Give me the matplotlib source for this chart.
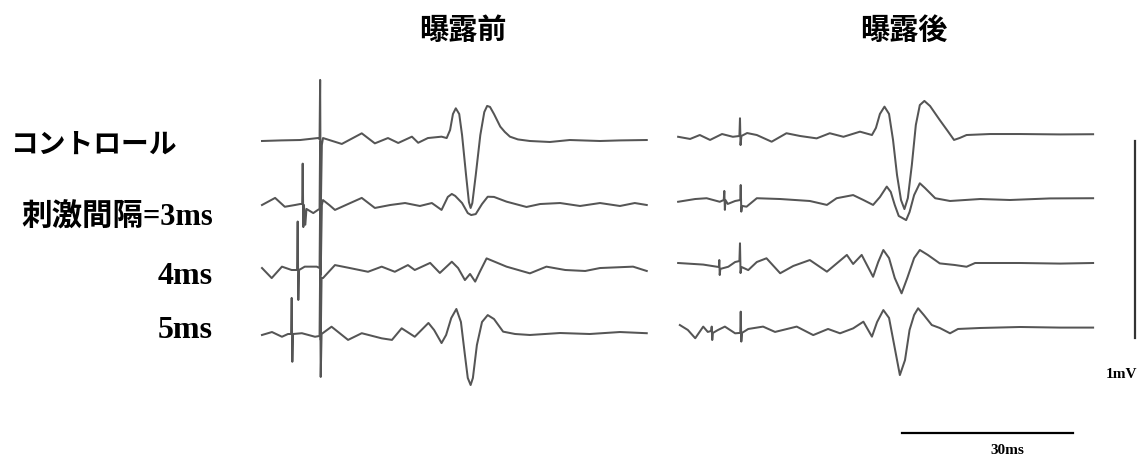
import matplotlib
matplotlib.use("Agg")
import matplotlib.pyplot as plt

# --- traces: time (ms from start of sweep), amplitude (mV from baseline) ---
# before exposure (曝露前)
pre_ctrl_t = [0, 3.3, 6.7, 9.8, 10.1, 10.2, 10.3, 10.5, 10.7, 14.0, 17.5, 19.8, 22.1, 23.9, 26.3, 27.4,
              29.1, 31.5, 32.4, 33.0, 33.5, 34.0, 34.6, 35.1, 35.8, 36.3, 36.6, 36.9, 37.5, 38.3, 39.0,
              39.5, 40.0, 40.7, 41.8, 42.6, 43.5, 44.9, 47.0, 50.5, 54.0, 59.3, 62.8, 67.5]
pre_ctrl_v = [0, 0.003, 0.005, 0.015, 0.01, 0.31, -0.376, -0.02, 0.015, -0.015, 0.039, -0.012, 0.015,
              -0.01, 0.022, -0.009, 0.015, 0.022, 0.015, 0.056, 0.137, 0.166, 0.137, 0.030, -0.173,
              -0.310, -0.340, -0.315, -0.173, 0.030, 0.147, 0.178, 0.173, 0.137, 0.073, 0.046, 0.022,
              0.008, 0, -0.005, 0.005, 0, 0.003, 0.005]

pre_3ms_t = [0, 2.3, 4.0, 5.8, 6.7, 7.05, 7.14, 7.25, 7.35, 7.6, 7.8, 9.0, 9.8, 10.1, 10.2, 10.3, 10.5,
             10.7, 11.8, 12.8, 15.1, 17.5, 19.8, 22.5, 25.1, 27.7, 29.8, 31.5, 32.6, 33.3, 33.9, 35.1,
             36.1, 36.7, 37.5, 38.6, 39.6, 40.7, 42.9, 46.4, 48.8, 52.3, 55.8, 59.3, 62.8, 65.4, 67.5]
pre_3ms_v = [0, 0.036, -0.009, 0, 0.005, 0.005, 0.21, -0.112, 0.0, -0.10, -0.02, -0.041, -0.025, -0.02,
             0.325, -0.355, 0.0, 0.025, 0, -0.025, 0.005, 0.036, -0.015, 0, 0.010, -0.005, 0.010, -0.025,
             0.041, 0.056, 0.046, 0.010, -0.041, -0.051, -0.046, 0.005, 0.042, 0.041, 0.017, -0.010,
             0.005, 0.010, -0.005, 0.010, -0.005, 0.010, 0]

pre_4ms_t = [0, 1.7, 3.5, 5.2, 6.15, 6.26, 6.37, 6.5, 7.5, 9.6, 10.1, 10.2, 10.3, 10.45, 10.7, 12.8,
             15.4, 18.6, 21.0, 23.3, 25.6, 26.8, 29.5, 31.2, 33.3, 34.4, 35.6, 36.5, 37.4, 38.2, 39.4,
             40.9, 42.9, 47.0, 49.9, 53.2, 56.7, 59.3, 65.1, 67.5]
pre_4ms_v = [0.01, -0.041, 0.017, 0, 0, 0.246, -0.152, 0.0, 0.017, 0.017, 0.01, 0.33, -0.355, -0.04,
             -0.041, 0.025, 0.010, -0.009, 0.017, -0.009, 0.025, 0, 0.036, -0.015, 0.042, 0.010, -0.051,
             -0.020, -0.059, -0.010, 0.059, 0.041, 0.017, -0.017, 0.017, 0, -0.005, 0.010, 0.017, -0.005]

pre_5ms_t = [0, 1.75, 3.5, 4.56, 5.1, 5.21, 5.32, 5.45, 7.0, 9.3, 10.1, 10.2, 10.3, 10.45, 12.2, 15.1,
             17.5, 21.0, 22.8, 24.5, 26.8, 29.2, 30.2, 31.5, 32.3, 33.2, 34.1, 34.9, 35.6, 36.1, 36.6,
             37.0, 37.7, 38.6, 39.6, 40.7, 42.3, 44.4, 47.0, 52.3, 57.5, 62.8, 67.5]
pre_5ms_v = [-0.005, 0.010, -0.014, 0, 0, 0.183, -0.141, 0, 0.004, -0.014, -0.01, 0.325, -0.218, 0.0,
             0.037, -0.030, 0.004, -0.022, -0.030, 0.029, -0.014, 0.056, 0.020, -0.046, -0.005, 0.081,
             0.127, 0.061, -0.107, -0.223, -0.259, -0.223, -0.056, 0.061, 0.096, 0.076, 0.012, 0,
             -0.005, 0.005, 0, 0.010, 0.004]

# after exposure (曝露後)
post_ctrl_t = [0.2, 2.3, 4.0, 5.8, 7.9, 9.8, 10.95, 11.05, 11.15, 11.3, 12.3, 14.0, 16.6, 19.2, 21.6,
               24.5, 26.8, 29.2, 32.1, 34.2, 34.9, 35.6, 36.4, 37.2, 37.9, 38.6, 39.3, 39.9, 40.5, 41.2,
               41.9, 42.6, 43.4, 44.4, 46.1, 47.5, 48.6, 49.6, 50.8, 54.9, 60.2, 67.2, 73.0]
post_ctrl_v = [-0.004, -0.015, 0.005, -0.020, 0.010, -0.004, 0, 0.09, -0.046, 0, 0.015, 0.005, -0.029,
               0.014, 0, -0.012, 0.014, -0.004, 0.022, 0.005, 0.041, 0.112, 0.149, 0.112, -0.020, -0.198,
               -0.325, -0.371, -0.315, -0.147, 0.056, 0.157, 0.178, 0.152, 0.081, 0.025, -0.020, -0.010,
               0.005, 0.010, 0.010, 0.008, 0.009]

post_3ms_t = [0.2, 3.2, 5.2, 7.5, 8.2, 8.3, 8.4, 8.5, 8.9, 10.2, 11.1, 11.18, 11.28, 11.4, 12.2, 14.0,
              18.1, 23.3, 26.3, 28.0, 30.9, 32.7, 34.4, 35.6, 36.8, 37.5, 38.2, 38.9, 40.2, 40.8, 41.6,
              42.6, 43.5, 45.3, 47.9, 53.2, 58.4, 65.4, 73.0]
post_3ms_v = [-0.009, 0.005, 0.009, -0.009, 0, 0.046, -0.05, 0.0, -0.020, -0.005, 0, 0.076, -0.059,
              -0.03, -0.034, 0.009, 0.005, -0.005, -0.025, 0.009, 0.025, 0, -0.025, 0.015, 0.068, 0.041,
              -0.025, -0.081, -0.102, -0.061, 0.025, 0.085, 0.061, 0.009, -0.005, 0.005, 0, 0.008, 0.009]

post_4ms_t = [0.2, 4.6, 7.0, 7.35, 7.42, 7.5, 7.6, 9.0, 10.2, 10.95, 11.05, 11.15, 11.3, 12.5, 14.0,
              15.7, 18.1, 20.4, 23.3, 26.3, 29.8, 30.9, 32.4, 34.4, 35.3, 36.2, 37.2, 38.2, 39.4, 40.4,
              41.6, 42.6, 44.0, 46.1, 48.7, 50.8, 52.3, 60.2, 67.2, 73.0]
post_4ms_v = [0, -0.008, -0.019, -0.02, 0.015, -0.061, -0.03, -0.019, 0.005, 0.01, 0.10, -0.051, -0.02,
              -0.036, 0.005, 0.024, -0.052, -0.015, 0.015, -0.044, 0.041, -0.005, 0.041, -0.070, 0.005,
              0.066, 0.025, -0.076, -0.154, -0.076, 0.025, 0.066, 0.041, -0.002, -0.010, -0.019, 0, 0,
              -0.003, 0]

post_5ms_t = [0.5, 1.9, 3.2, 4.6, 5.4, 6.0, 6.09, 6.18, 6.3, 7.2, 8.4, 10.2, 11.1, 11.18, 11.28, 11.4,
              12.5, 15.1, 17.2, 21.0, 23.9, 26.5, 28.6, 30.9, 32.7, 34.2, 35.1, 36.2, 37.2, 38.1, 39.1,
              40.0, 40.8, 41.6, 42.3, 43.3, 44.7, 46.1, 47.9, 49.3, 53.2, 60.2, 67.2, 73.0]
post_5ms_v = [0.010, -0.015, -0.057, 0.002, -0.025, -0.02, 0.002, -0.066, -0.03, -0.015, 0.002, -0.032,
              -0.03, 0.078, -0.074, -0.03, -0.010, 0.002, -0.025, 0.002, -0.041, -0.010, -0.032, -0.007,
              0.027, -0.049, 0.025, 0.086, 0.046, -0.091, -0.244, -0.168, -0.015, 0.061, 0.095, 0.061,
              0.010, -0.005, -0.032, -0.010, -0.005, 0, -0.003, -0.003]

titles = ["曝露前", "曝露後"]
row_labels = ["コントロール", "刺激間隔=3ms", "4ms", "5ms"]
scale_ms = 30
scale_mv = 1

PX_MS = 5.7    # pixels per ms
PX_MV = 197.0  # pixels per mV
W, H = 1142, 458

fig = plt.figure(figsize=(W / 100, H / 100), dpi=100)
ax = fig.add_axes([0, 0, 1, 1])
ax.set_xlim(0, W / PX_MS)
ax.set_ylim(0, H / PX_MV)
ax.axis("off")

pre = [(pre_ctrl_t, pre_ctrl_v), (pre_3ms_t, pre_3ms_v), (pre_4ms_t, pre_4ms_v), (pre_5ms_t, pre_5ms_v)]
post = [(post_ctrl_t, post_ctrl_v), (post_3ms_t, post_3ms_v), (post_4ms_t, post_4ms_v),
        (post_5ms_t, post_5ms_v)]

# panel origins / baselines (in pixels of the original layout)
pre_x0, post_x0 = 262, 677
pre_base = [141, 205, 270, 334]
post_base = [136, 200, 263, 327]

trace_col = "#555555"
for traces, x0, bases in [(pre, pre_x0, pre_base), (post, post_x0, post_base)]:
    for (t, v), b in zip(traces, bases):
        off_t = x0 / PX_MS
        off_v = (H - b) / PX_MV
        ax.plot([ti + off_t for ti in t], [vi + off_v for vi in v],
                color=trace_col, lw=1.45, solid_joinstyle="round")

# scale bars
bx = 902 / PX_MS
by = (H - 433) / PX_MV
ax.plot([bx, bx + scale_ms], [by, by], color="black", lw=1.6)
vx = 1135 / PX_MS
vy = (H - 338) / PX_MV
ax.plot([vx, vx], [vy, vy + scale_mv], color="#333333", lw=1.6)

jp = ["Noto Sans CJK JP", "DejaVu Sans"]
serif_jp = ["Liberation Serif", "Noto Sans CJK JP"]

def fx(x):
    return x / W

def fy(y):
    return 1 - y / H

fig.text(fx(463), fy(30), titles[0], family=jp, weight="bold", fontsize=21, ha="center", va="center")
fig.text(fx(904), fy(30), titles[1], family=jp, weight="bold", fontsize=21, ha="center", va="center")

fig.text(fx(10), fy(145), row_labels[0], family=jp, weight="bold", fontsize=20, ha="left", va="center")
fig.text(fx(213), fy(218), row_labels[1], family=serif_jp, weight="bold", fontsize=22, ha="right", va="center")
fig.text(fx(213), fy(276), row_labels[2], family=serif_jp, weight="bold", fontsize=23, ha="right", va="center")
fig.text(fx(213), fy(330), row_labels[3], family=serif_jp, weight="bold", fontsize=23, ha="right", va="center")

fig.text(fx(1007), fy(451), f"{scale_ms}ms", family="Liberation Serif", weight="bold", fontsize=11,
         ha="center", va="center")
fig.text(fx(1121), fy(374), f"{scale_mv}mV", family="Liberation Serif", weight="bold", fontsize=11,
         ha="center", va="center")

fig.savefig("out.png", dpi=100)
